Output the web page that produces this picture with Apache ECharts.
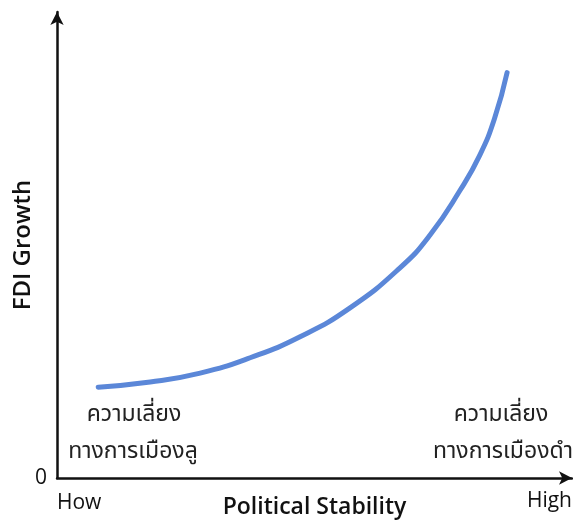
<!DOCTYPE html>
<html><head><meta charset="utf-8">
<script src="https://cdn.jsdelivr.net/npm/echarts@6/dist/echarts.min.js"></script>
<style>html,body{margin:0;padding:0;background:#fff}#c{width:573px;height:522px}</style>
</head><body><div id="c"></div>
<script>
const xValues = [8.0, 18.1, 27.8, 37.5, 47.2, 56.9, 66.6, 72.4, 78.3, 82.1, 85.0, 87.4];
const yValues = [19.5, 20.6, 22.5, 25.8, 30.3, 36.5, 45.1, 52.1, 61.8, 69.3, 77.3, 87.0];
const xAxisName = 'Political Stability';
const yAxisName = 'FDI Growth';
const xEndLabels = ['How', 'High'];
const leftNote = ['ความเลี่ยง', 'ทางการเมืองลู'];
const rightNote = ['ความเลี่ยง', 'ทางการเมืองดำ'];

const chart = echarts.init(document.getElementById('c'));
const font = "'Open Sans', 'Noto Sans', sans-serif";
const thai = "'Noto Sans', 'Noto Sans Thai', sans-serif";
chart.setOption({
  animation: false,
  grid: {left: 57, right: 1, top: 12, bottom: 44, containLabel: false, outerBoundsMode: 'none'},
  xAxis: {
    type: 'value', min: 0, max: 100,
    axisLine: {show: true, lineStyle: {color: '#111', width: 2.5}, symbol: ['none', 'arrow'], symbolSize: [10, 13], onZero: true},
    axisTick: {show: false}, axisLabel: {show: false}, splitLine: {show: false},
    name: xAxisName, nameLocation: 'middle', nameGap: 18,
    nameTextStyle: {fontSize: 23, fontWeight: 600, color: '#111', fontFamily: font}
  },
  yAxis: {
    type: 'value', min: 0, max: 100, interval: 100,
    axisLine: {show: true, lineStyle: {color: '#111', width: 2.5}, symbol: ['none', 'arrow'], symbolSize: [10, 13]},
    axisTick: {show: false},
    axisLabel: {formatter: v => v === 0 ? '0' : '', fontSize: 21, color: '#111', margin: 10, fontFamily: font},
    splitLine: {show: false},
    name: yAxisName, nameLocation: 'middle', nameGap: 22, nameRotate: 90, nameMoveOverlap: false,
    nameTextStyle: {fontSize: 24, fontWeight: 600, color: '#111', fontFamily: font}
  },
  graphic: [
    {type: 'text', left: 57, top: 493, style: {text: xEndLabels[0], fontSize: 21, fill: '#111', fontFamily: font}},
    {type: 'text', right: 1, top: 491, style: {text: xEndLabels[1], fontSize: 21, fill: '#111', fontFamily: font}},
    {type: 'text', x: 134, y: 414, style: {text: leftNote[0], fontSize: 23, fill: '#222', align: 'center', verticalAlign: 'middle', fontFamily: thai}},
    {type: 'text', x: 133, y: 451, style: {text: leftNote[1], fontSize: 23, fill: '#222', align: 'center', verticalAlign: 'middle', fontFamily: thai}},
    {type: 'text', x: 501, y: 414, style: {text: rightNote[0], fontSize: 23, fill: '#222', align: 'center', verticalAlign: 'middle', fontFamily: thai}},
    {type: 'text', x: 503, y: 451, style: {text: rightNote[1], fontSize: 23, fill: '#222', align: 'center', verticalAlign: 'middle', fontFamily: thai}}
  ],
  series: [{
    type: 'line', smooth: 0.5, showSymbol: false,
    data: xValues.map((x, i) => [x, yValues[i]]),
    lineStyle: {color: '#5b87d8', width: 5, cap: 'round'}
  }]
});
</script></body></html>
